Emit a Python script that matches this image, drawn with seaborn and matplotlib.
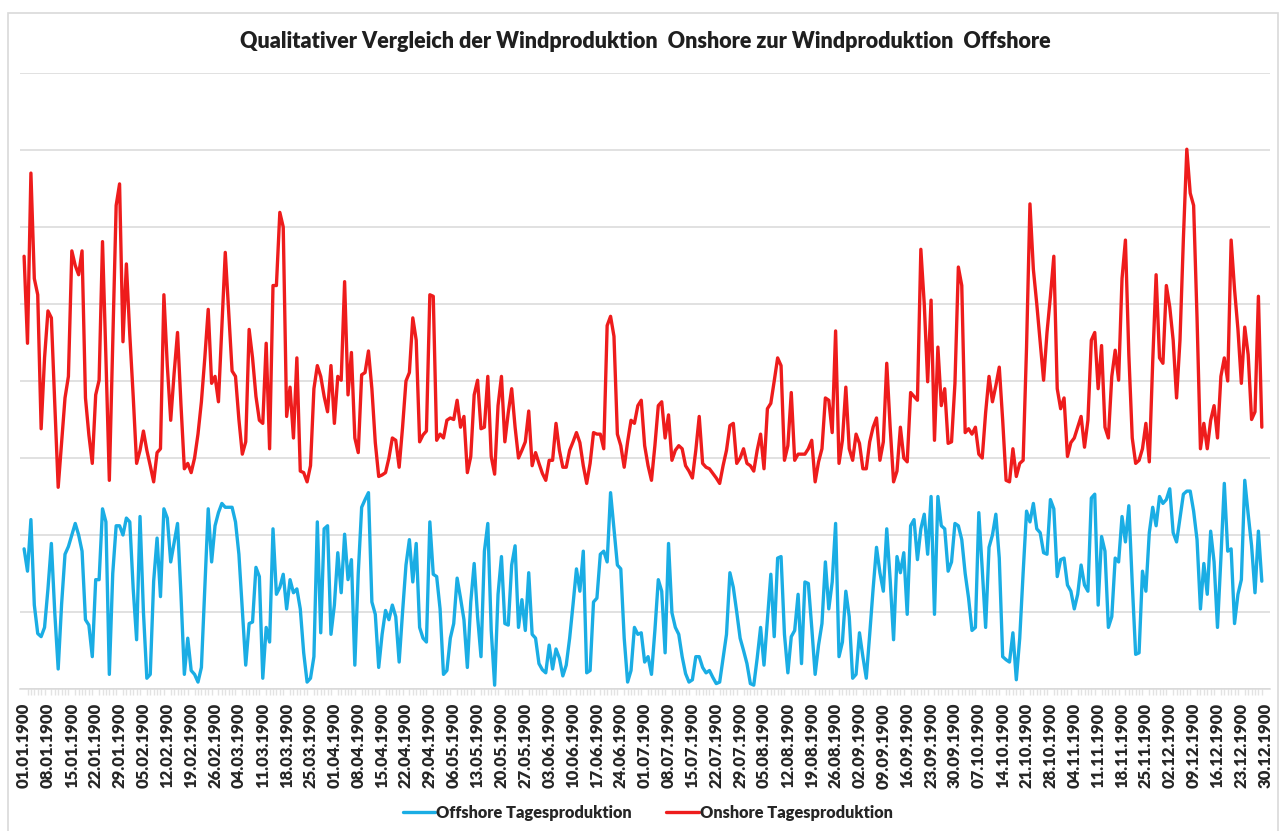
import numpy as np
import pandas as pd
import matplotlib
matplotlib.use("Agg")
import matplotlib.pyplot as plt
import seaborn as sns
from matplotlib.lines import Line2D
from matplotlib.patches import Rectangle

# Tageswerte (Einheit = Gitterlinienabstand)
onshore = [
    5.62, 4.49, 6.7, 5.33, 5.12, 3.38, 4.3, 4.91, 4.82, 3.7,
    2.62, 3.2, 3.78, 4.06, 5.69, 5.5, 5.38, 5.69, 3.78, 3.3,
    2.93, 3.82, 4.01, 5.81, 4.3, 2.71, 4.5, 6.28, 6.56, 4.51,
    5.52, 4.6, 3.8, 2.93, 3.1, 3.35, 3.1, 2.9, 2.69, 3.07,
    3.12, 5.12, 4.2, 3.49, 4.1, 4.63, 3.7, 2.86, 2.93, 2.81,
    3.0, 3.31, 3.73, 4.3, 4.93, 3.97, 4.06, 3.73, 4.7, 5.67,
    4.9, 4.13, 4.06, 3.5, 3.05, 3.21, 4.67, 4.3, 3.8, 3.49,
    3.45, 4.49, 3.12, 5.24, 5.24, 6.19, 6.0, 3.54, 3.92, 3.26,
    4.3, 2.83, 2.81, 2.69, 2.9, 3.9, 4.2, 4.06, 3.8, 3.6,
    4.2, 3.45, 4.06, 4.01, 5.29, 3.82, 4.37, 3.26, 3.07, 4.08,
    4.11, 4.39, 3.9, 3.2, 2.76, 2.78, 2.81, 3.0, 3.26, 3.23,
    2.88, 3.4, 4.0, 4.11, 4.82, 4.53, 3.21, 3.3, 3.35, 5.12,
    5.1, 3.23, 3.31, 3.26, 3.49, 3.52, 3.5, 3.75, 3.4, 3.54,
    2.81, 3.02, 3.82, 4.01, 3.38, 3.4, 4.06, 3.02, 2.79, 3.68,
    4.06, 3.21, 3.59, 3.9, 3.4, 3.0, 3.1, 3.21, 3.61, 2.9,
    3.07, 2.93, 2.8, 2.71, 2.97, 2.97, 3.45, 3.1, 2.88, 2.88,
    3.1, 3.21, 3.33, 3.2, 2.9, 2.67, 2.93, 3.33, 3.31, 3.31,
    3.12, 4.72, 4.84, 4.58, 3.31, 3.16, 2.88, 3.21, 3.49, 3.45,
    3.68, 3.75, 3.16, 2.9, 2.71, 3.16, 3.68, 3.73, 3.26, 3.56,
    2.97, 3.1, 3.16, 3.12, 2.9, 2.83, 2.74, 3.1, 3.54, 2.93,
    2.88, 2.86, 2.8, 2.74, 2.67, 2.9, 3.1, 3.42, 3.45, 2.93,
    3.0, 3.12, 2.93, 2.9, 2.83, 3.1, 3.31, 2.86, 3.64, 3.71,
    4.0, 4.3, 4.2, 2.97, 3.16, 3.85, 2.97, 3.05, 3.05, 3.05,
    3.12, 3.23, 2.69, 2.95, 3.12, 3.78, 3.75, 3.33, 4.65, 2.93,
    3.23, 3.92, 3.12, 2.97, 3.31, 3.19, 2.86, 2.86, 3.21, 3.4,
    3.52, 2.97, 3.21, 4.23, 3.4, 2.69, 2.83, 3.4, 3.0, 2.95,
    3.85, 3.8, 3.75, 5.71, 5.0, 3.99, 5.05, 3.23, 4.44, 3.68,
    3.9, 3.19, 3.21, 3.97, 5.48, 5.24, 3.33, 3.38, 3.31, 3.4,
    3.05, 3.0, 3.59, 4.06, 3.73, 3.94, 4.18, 3.49, 2.71, 2.69,
    3.12, 2.76, 2.93, 2.97, 4.44, 6.3, 5.45, 5.0, 4.5, 4.01,
    4.63, 5.1, 5.62, 3.9, 3.64, 3.78, 3.02, 3.2, 3.26, 3.4,
    3.54, 3.14, 3.49, 4.53, 4.63, 3.9, 4.46, 3.4, 3.26, 4.06,
    4.4, 4.01, 5.33, 5.83, 4.34, 3.26, 2.93, 2.97, 3.12, 3.45,
    2.95, 4.25, 5.38, 4.3, 4.23, 5.24, 4.96, 4.53, 3.78, 4.53,
    5.85, 7.01, 6.44, 6.28, 4.82, 3.12, 3.45, 3.12, 3.49, 3.68,
    3.26, 4.06, 4.3, 4.0, 5.83, 5.19, 4.67, 3.97, 4.7, 4.34,
    3.5, 3.6, 5.1, 3.4,
]

offshore = [
    1.82, 1.53, 2.2, 1.09, 0.72, 0.68, 0.8, 1.3, 1.89, 0.99,
    0.26, 1.1, 1.75, 1.85, 2.0, 2.15, 2.0, 1.79, 0.9, 0.83,
    0.42, 1.42, 1.42, 2.34, 2.17, 0.19, 1.5, 2.12, 2.12, 2.0,
    2.22, 2.17, 1.3, 0.64, 2.24, 1.0, 0.14, 0.19, 1.4, 1.96,
    1.2, 2.34, 2.22, 1.65, 1.9, 2.15, 1.23, 0.19, 0.66, 0.24,
    0.19, 0.09, 0.28, 1.3, 2.34, 1.65, 2.12, 2.29, 2.41, 2.36,
    2.36, 2.36, 2.17, 1.75, 1.04, 0.31, 0.85, 0.87, 1.58, 1.46,
    0.14, 0.8, 0.61, 2.08, 1.23, 1.32, 1.49, 1.04, 1.42, 1.25,
    1.3, 1.04, 0.47, 0.09, 0.14, 0.42, 2.17, 0.73, 2.08, 2.12,
    0.71, 1.09, 1.77, 1.25, 2.01, 1.42, 1.68, 0.31, 1.5, 2.36,
    2.46, 2.55, 1.13, 0.97, 0.28, 0.71, 1.02, 0.9, 1.09, 0.94,
    0.35, 1.0, 1.61, 1.94, 1.39, 1.89, 0.8, 0.66, 0.61, 2.17,
    1.49, 1.46, 1.04, 0.19, 0.24, 0.66, 0.85, 1.44, 1.18, 0.9,
    0.28, 1.13, 1.63, 0.94, 0.42, 1.79, 2.15, 0.76, 0.05, 1.23,
    1.72, 0.85, 0.83, 1.61, 1.86, 0.8, 1.16, 0.76, 1.51, 0.71,
    0.66, 0.33, 0.25, 0.21, 0.57, 0.26, 0.52, 0.4, 0.17, 0.31,
    0.66, 1.1, 1.56, 1.27, 1.79, 0.21, 0.24, 1.13, 1.18, 1.75,
    1.79, 1.65, 2.55, 2.08, 1.61, 1.56, 0.66, 0.09, 0.24, 0.8,
    0.71, 0.73, 0.35, 0.42, 0.19, 0.76, 1.42, 1.27, 0.47, 1.89,
    0.99, 0.8, 0.71, 0.42, 0.2, 0.09, 0.12, 0.42, 0.42, 0.28,
    0.21, 0.24, 0.15, 0.07, 0.09, 0.4, 0.71, 1.51, 1.32, 1.0,
    0.66, 0.5, 0.33, 0.07, 0.05, 0.4, 0.8, 0.31, 0.9, 1.49,
    0.68, 1.7, 1.72, 0.71, 0.21, 0.68, 0.76, 1.23, 0.33, 1.39,
    1.37, 0.8, 0.19, 0.57, 0.85, 1.65, 1.04, 1.39, 2.15, 0.42,
    0.61, 1.27, 0.94, 0.14, 0.19, 0.73, 0.42, 0.14, 0.71, 1.3,
    1.84, 1.51, 1.27, 2.08, 1.42, 0.64, 1.72, 1.51, 1.77, 0.97,
    2.12, 2.2, 1.68, 2.08, 2.27, 1.75, 2.5, 0.97, 2.5, 2.12,
    2.08, 1.53, 1.65, 2.15, 2.12, 1.94, 1.5, 1.18, 0.76, 0.8,
    2.29, 1.56, 0.8, 1.84, 2.0, 2.27, 1.7, 0.42, 0.38, 0.35,
    0.73, 0.12, 0.66, 1.51, 2.31, 2.17, 2.41, 2.08, 2.03, 1.77,
    1.75, 2.46, 2.34, 1.46, 1.68, 1.7, 1.35, 1.27, 1.04, 1.23,
    1.61, 1.35, 1.27, 2.48, 2.53, 1.09, 1.98, 1.79, 0.8, 0.94,
    1.7, 1.65, 2.24, 1.91, 2.38, 1.37, 0.45, 0.47, 1.53, 1.27,
    2.03, 2.36, 2.12, 2.5, 2.41, 2.46, 2.6, 2.03, 1.91, 2.22,
    2.53, 2.57, 2.57, 2.31, 1.94, 1.04, 1.63, 1.23, 2.05, 1.65,
    0.8, 1.7, 2.67, 1.79, 1.82, 0.85, 1.23, 1.42, 2.71, 2.27,
    1.86, 1.25, 2.05, 1.4,
]

# Wochenbeschriftung (Excel-Kalender 1900 mit 29.02.)
tick_labels = [
    "01.01.1900", "08.01.1900", "15.01.1900", "22.01.1900", "29.01.1900",
    "05.02.1900", "12.02.1900", "19.02.1900", "26.02.1900", "04.03.1900",
    "11.03.1900", "18.03.1900", "25.03.1900", "01.04.1900", "08.04.1900",
    "15.04.1900", "22.04.1900", "29.04.1900", "06.05.1900", "13.05.1900",
    "20.05.1900", "27.05.1900", "03.06.1900", "10.06.1900", "17.06.1900",
    "24.06.1900", "01.07.1900", "08.07.1900", "15.07.1900", "22.07.1900",
    "29.07.1900", "05.08.1900", "12.08.1900", "19.08.1900", "26.08.1900",
    "02.09.1900", "09.09.1900", "16.09.1900", "23.09.1900", "30.09.1900",
    "07.10.1900", "14.10.1900", "21.10.1900", "28.10.1900", "04.11.1900",
    "11.11.1900", "18.11.1900", "25.11.1900", "02.12.1900", "09.12.1900",
    "16.12.1900", "23.12.1900", "30.12.1900",
]

series_names = ["Offshore Tagesproduktion", "Onshore Tagesproduktion"]
colors = {"Offshore Tagesproduktion": "#1AADE4", "Onshore Tagesproduktion": "#EE1C1C"}

###--------------------------------------------------###
sns.set_theme(style="white")
plt.rcParams["font.family"] = ["Lato", "DejaVu Sans"]
plt.rcParams["lines.solid_joinstyle"] = "round"
plt.rcParams["lines.solid_capstyle"] = "round"

days = np.arange(len(onshore))
df = pd.concat([
    pd.DataFrame({"tag": days, "wert": offshore, "serie": series_names[0]}),
    pd.DataFrame({"tag": days, "wert": onshore, "serie": series_names[1]}),
])

fig = plt.figure(figsize=(12.85, 8.31), dpi=100)
ax = fig.add_axes([20 / 1285, 1 - 689 / 831, 1250 / 1285, 616 / 831])

sns.lineplot(data=df, x="tag", y="wert", hue="serie", palette=colors,
             linewidth=2.4, legend=False, ax=ax, estimator=None, sort=False)

ax.set_xlim(-1.2, 365.4)
ax.set_ylim(0, 8)
ax.set_yticks(np.arange(0, 9, 1))
ax.set_yticklabels([])
ax.tick_params(axis="y", length=0)
ax.grid(axis="y", color="#D9D9D9", linewidth=1.1)
ax.grid(axis="x", visible=False)
ax.set_axisbelow(True)

ax.set_xticks(np.arange(0, 7 * len(tick_labels), 7))
ax.set_xticklabels(tick_labels, rotation=90, fontsize=12, fontweight="heavy",
                   color="#262626")
ax.set_xticks(days, minor=True)
ax.tick_params(axis="x", which="major", length=4, color="#D9D9D9", pad=6)
ax.tick_params(axis="x", which="minor", length=4, color="#E3E3E3", bottom=True)
ax.set_xlabel("")
ax.set_ylabel("")

for side in ["top", "right", "left"]:
    ax.spines[side].set_visible(False)
ax.spines["bottom"].set_color("#D9D9D9")
ax.spines["bottom"].set_linewidth(1.1)

# Titel
fig.text(0.502, 1 - 42 / 831,
         "Qualitativer Vergleich der Windproduktion  Onshore zur Windproduktion  Offshore",
         ha="center", va="center", fontsize=15.5, fontweight="heavy", color="#1F1F1F")

# Legende
handles = [Line2D([], [], color=colors[s], linewidth=2.4) for s in series_names]
leg = fig.legend(handles, series_names, loc="center", bbox_to_anchor=(0.504, 1 - 813 / 831),
                 ncol=2, frameon=False, handlelength=2.0, handletextpad=0.05,
                 columnspacing=2.1, prop={"weight": "heavy", "size": 11.8})
for t in leg.get_texts():
    t.set_color("#262626")

# Rahmen des Diagrammbereichs
fig.patches.append(Rectangle((8 / 1285, -0.01), 1270 / 1285, 0.994,
                             transform=fig.transFigure, fill=False,
                             edgecolor="#D9D9D9", linewidth=1.2))

fig.savefig("out.png", dpi=100)
